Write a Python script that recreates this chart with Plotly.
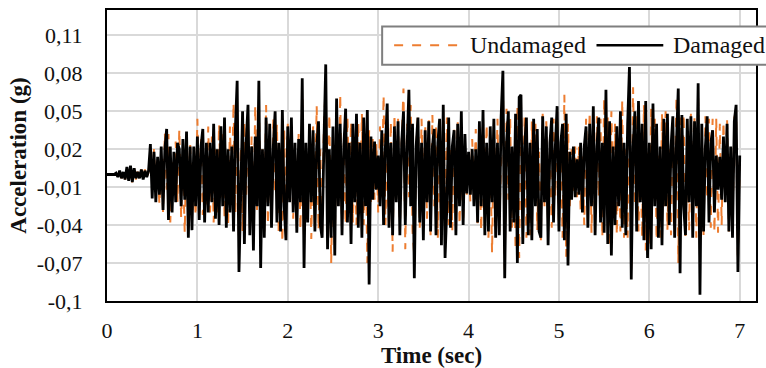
import plotly.graph_objects as go

DT = 0.02
damaged_mg = [
    0, 0, 0, 0, 0, 1, -2, 3, -3, 2,
    -4, 6, -5, 7, -6, 5, -3, 2, -3, 4,
    -4, 3, -2, 3, 24, -19, 18, -22, 14, -16,
    22, -28, 20, 36, -36, 22, -30, 18, -22, 25,
    20, -25, 28, -20, 34, -50, 22, -44, 22, -25,
    30, -36, 22, 36, -38, 25, -30, 25, -22, 40,
    -35, 20, -40, 38, -25, 45, -42, 20, -30, 22,
    -45, 35, 74, -77, -20, 50, -55, 25, 55, -48,
    22, -60, 30, -25, 74, -74, 20, -50, 45, -25,
    40, -42, 22, 50, -38, 25, -45, 51, -25, -52,
    38, -22, 45, -30, 25, -46, 28, -22, 76, -74,
    25, -38, 40, -22, 35, -45, 22, 42, -40, -50,
    25, 87, -59, 20, -50, 38, -64, 60, -25, 40,
    -48, 22, 52, -38, 25, -55, 40, -22, 48, -42,
    25, -50, 45, -25, 51, -87, 30, -20, 26, -12,
    15, -25, 35, -40, 22, 56, -42, 25, -48, 38,
    -22, 42, -48, 25, 50, -40, 22, 67, -25, 40,
    -82, 22, 45, -38, 25, -52, 35, -22, 42, -45,
    22, 36, -48, 25, 44, -56, 55, -66, -25, 45,
    -42, 22, 35, -48, 40, -25, 50, -40, 32, -15,
    18, -16, 20, -25, 20, -38, 42, -25, 51, -48,
    25, -45, 38, -22, 44, -50, 25, -48, 45, 82,
    -82, 25, 50, -45, 22, -38, 48, -70, 61, 63,
    -55, 22, 45, -48, 25, -52, 44, -25, 36, -45,
    -50, 46, -22, 38, -56, 25, 45, -38, 22, 54,
    -45, 25, 40, -52, 48, -72, 18, -20, 22, -18,
    12, -16, 25, -30, 22, 38, -42, 40, -25, 54,
    -48, 22, 45, -38, 25, -46, 67, -55, 42, -64,
    22, -40, 38, -25, 50, -42, 25, -48, 40, 85,
    -83, 22, 50, -45, 58, -22, 40, -52, 58, -66,
    25, -59, 56, -25, 40, -50, 22, -56, 44, -25,
    48, -40, 22, 46, -50, 25, 68, -78, 47, -25,
    -48, 44, -22, 46, -50, 42, -25, 72, -95, 40,
    -45, 22, 46, -38, 25, 35, -30, 15, -12, 14,
    -20, 30, -22, 40, -45, 22, -50, 42, 55, -77,
    15,
]
undamaged_mg = [
    0, 0, 0, 0, 0, 1, -2, 2, -3, 3,
    -4, 5, -6, 6, -7, 5, -4, 3, -2, 4,
    -3, 4, -3, 2, 18, -10, 20, -16, 6, -24,
    15, -30, 33, -12, 32, -38, 10, -15, 26, -22,
    36, -34, 10, -46, 30, -15, 25, -38, 10, -33,
    44, -20, 28, -32, 12, -25, 38, -30, 30, -38,
    20, -32, 40, -18, 35, -34, 15, -40, 38, -20,
    57, -30, 50, -58, 22, -45, 42, -18, 45, -42,
    30, -44, 55, -28, 60, -30, 20, -45, 55, -40,
    25, -38, 44, -15, 40, -48, 20, -54, 35, -28,
    40, -20, 42, -35, 18, -42, 32, -44, 60, -56,
    20, -35, 34, -51, 38, -15, 54, -44, 20, -46,
    40, 70, -30, 48, -70, 15, -55, 50, -25, 64,
    -44, 25, -40, 46, -20, 42, -38, 15, -40, 42,
    -20, 48, -40, 30, -70, 35, -22, 28, -20, 25,
    -30, 38, -18, 63, -40, 20, -44, 42, -61, 48,
    -20, 44, -45, 25, 68, -59, 40, -18, 55, -45,
    -65, 20, 48, -42, 44, -20, 40, -35, 46, -48,
    47, -25, 40, -50, 22, -52, 50, -30, 45, -40,
    20, -44, 38, -25, 42, -40, 18, -38, 20, -16,
    18, -22, 28, -12, 36, -40, 15, -45, 45, -20,
    40, -50, 18, -62, 40, -25, 44, -45, 20, 75,
    -75, 52, -20, 45, -42, 18, -60, 55, -66, 58,
    -30, 45, -50, 15, -48, 42, -20, 40, -44, 18,
    -52, 48, -25, 42, -45, 20, -42, 44, -18, 50,
    -42, 20, -50, 63, -65, 40, -25, 20, -16, 22,
    -18, 22, -28, 15, -40, 44, -20, 50, -46, 20,
    -40, 46, -18, 44, -50, 60, -25, 45, -58, 50,
    -20, 40, -48, 22, -45, 59, -50, 20, -50, 78,
    -76, 69, -25, 48, -45, 18, -50, 55, -60, 20,
    -55, 52, -20, 44, -52, 15, -50, 48, -25, 50,
    -44, 20, -48, 42, -20, 62, -70, 45, -22, 48,
    -50, 20, -44, 48, -25, 46, -50, 60, -59, 18,
    -48, 46, -20, 44, -42, 44, -46, 44, -46, 40,
    -40, 42, -15, 44, -45, 20, -48, 45, 50, -70,
    10,
]
time_s = [round(i * DT, 2) for i in range(len(damaged_mg))]
damaged = [v / 1000 for v in damaged_mg]
undamaged = [v / 1000 for v in undamaged_mg]

y_tickvals = [-0.1, -0.07, -0.04, -0.01, 0.02, 0.05, 0.08, 0.11]
y_ticktext = ["-0,1", "-0,07", "-0,04", "-0,01", "0,02", "0,05", "0,08", "0,11"]
x_tickvals = [0, 1, 2, 3, 4, 5, 6, 7]
series_names = ["Undamaged", "Damaged"]
series_colors = ["#ED7D31", "#000000"]

FONT = "Liberation Serif"
W, H = 766, 368
ML, MR, MT, MB = 107, 8, 9, 61
PW, PH = W - ML - MR, H - MT - MB


def px2x(px):
    return (px - ML) / PW


def px2y(py):
    return (H - MB - py) / PH


fig = go.Figure()
fig.add_trace(go.Scatter(x=time_s, y=undamaged, mode="lines", name=series_names[0],
                         line=dict(color=series_colors[0], width=2, dash="dash")))
fig.add_trace(go.Scatter(x=time_s, y=damaged, mode="lines", name=series_names[1],
                         line=dict(color=series_colors[1], width=2.8)))

# legend box drawn to match the original (it runs past the right edge)
shapes = [
    dict(type="rect", xref="paper", yref="paper",
         x0=px2x(383), x1=px2x(790), y0=px2y(65), y1=px2y(26),
         fillcolor="white", line=dict(color="#7f7f7f", width=2), layer="above"),
    dict(type="line", xref="paper", yref="paper",
         x0=px2x(395), x1=px2x(463), y0=px2y(45), y1=px2y(45),
         line=dict(color=series_colors[0], width=2, dash="dash"), layer="above"),
    dict(type="line", xref="paper", yref="paper",
         x0=px2x(598), x1=px2x(665), y0=px2y(45), y1=px2y(45),
         line=dict(color=series_colors[1], width=2.5), layer="above"),
]
annotations = [
    dict(xref="paper", yref="paper", x=px2x(469), y=px2y(45), text=series_names[0],
         showarrow=False, xanchor="left", yanchor="middle",
         font=dict(family=FONT, size=24, color="#111111")),
    dict(xref="paper", yref="paper", x=px2x(673), y=px2y(45), text=series_names[1],
         showarrow=False, xanchor="left", yanchor="middle",
         font=dict(family=FONT, size=24, color="#111111")),
]

fig.update_layout(
    width=W, height=H,
    margin=dict(l=ML, r=MR, t=MT, b=MB),
    paper_bgcolor="white", plot_bgcolor="white",
    font=dict(family=FONT, size=22, color="#111111"),
    showlegend=False,
    shapes=shapes, annotations=annotations,
    xaxis=dict(range=[0, 7.18], tickvals=x_tickvals, showgrid=True,
               gridcolor="#d9d9d9", gridwidth=2, zeroline=False,
               showline=True, linecolor="black", linewidth=2, mirror=True,
               ticks="", ticklabelstandoff=9,
               title=dict(text="<b>Time (sec)</b>", font=dict(size=23, color="#111111"),
                          standoff=0)),
    yaxis=dict(range=[-0.1, 0.13], tickvals=y_tickvals, ticktext=y_ticktext,
               showgrid=True, gridcolor="#d9d9d9", gridwidth=2, zeroline=False,
               showline=True, linecolor="black", linewidth=2, mirror=True,
               ticks="", ticklabelstandoff=18,
               title=dict(text="<b>Acceleration (g)</b>", font=dict(size=23, color="#111111"),
                          standoff=4)),
)

fig.write_html("out.html")
